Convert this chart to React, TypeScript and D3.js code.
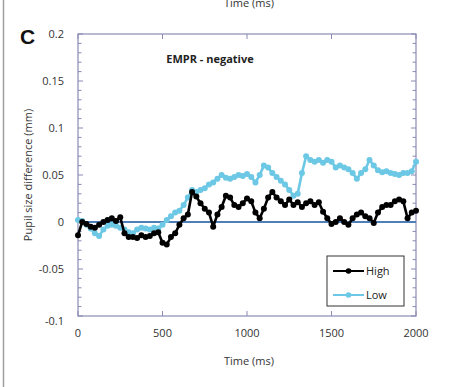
import React, { useEffect, useRef } from 'react';
import * as d3 from 'd3';

const times = d3.range(0, 2001, 25);

const highValues = [
  -0.014, 0.0, -0.002, -0.005, -0.006, -0.003, 0.0, 0.002, 0.004, 0.001,
  0.005, -0.012, -0.016, -0.016, -0.017, -0.014, -0.016, -0.015, -0.012, -0.011,
  -0.022, -0.024, -0.016, -0.012, -0.003, 0.004, 0.008, 0.032, 0.027, 0.02,
  0.014, 0.01, -0.005, 0.008, 0.016, 0.028, 0.026, 0.018, 0.016, 0.02,
  0.025, 0.022, 0.01, 0.004, 0.014, 0.026, 0.032, 0.026, 0.022, 0.018,
  0.024, 0.018, 0.021, 0.016, 0.02, 0.022, 0.018, 0.021, 0.011, 0.004,
  -0.002, 0.0, 0.004, 0.0, -0.003, 0.004, 0.008, 0.01, 0.006, 0.004,
  -0.001, 0.01, 0.016, 0.018, 0.018, 0.022, 0.024, 0.022, 0.004, 0.01,
  0.012,
];

const lowValues = [
  0.002, 0.001, -0.003, -0.007, -0.012, -0.015, -0.008, -0.004, -0.003, -0.004,
  -0.006, -0.008, -0.011, -0.012, -0.008, -0.006, -0.007, -0.008, -0.006, -0.007,
  -0.003, 0.002, 0.006, 0.01, 0.012, 0.018, 0.026, 0.034, 0.032, 0.034,
  0.036, 0.04, 0.042, 0.046, 0.05, 0.047, 0.046, 0.048, 0.05, 0.049,
  0.051, 0.048, 0.042, 0.05, 0.06, 0.058, 0.052, 0.048, 0.044, 0.04,
  0.034, 0.028, 0.03, 0.052, 0.07, 0.066, 0.064, 0.066, 0.063, 0.066,
  0.064, 0.058, 0.06, 0.058, 0.056, 0.052, 0.046, 0.052, 0.056, 0.066,
  0.06, 0.055, 0.053, 0.054, 0.052, 0.051, 0.05, 0.052, 0.052, 0.054,
  0.064,
];

const xTicks = [0, 500, 1000, 1500, 2000];
const yTicks = ['-0.1', '-0.05', '0', '0.05', '0.1', '0.15', '0.2'];
const yMinorTicks = d3.range(-10, 21).map((d) => d / 100);

const series = [
  { name: 'High', values: highValues, color: '#000000' },
  { name: 'Low', values: lowValues, color: '#6cc8e4' },
];

const W = 454;
const H = 387;

export default function App() {
  const svgRef = useRef<SVGSVGElement>(null);

  useEffect(() => {
    if (!svgRef.current) return;
    const svg = d3.select(svgRef.current);
    svg.selectAll('*').remove();

    const left = 78, right = 416, top = 34, bottom = 316;
    const x = d3.scaleLinear().domain([0, 2000]).range([left, right]);
    const y = d3.scaleLinear().domain([-0.1, 0.2]).range([bottom, top]);
    const font = "'Open Sans', 'Liberation Sans', sans-serif";
    const frame = '#8a8ab4';

    svg.append('rect').attr('width', W).attr('height', H).attr('fill', '#ffffff');

    // page edge line on the left
    svg.append('line')
      .attr('x1', 3.5).attr('x2', 3.5).attr('y1', 0).attr('y2', H)
      .attr('stroke', '#a0a0a0').attr('stroke-width', 1.5);

    // panel letter
    svg.append('text')
      .attr('x', 20).attr('y', 44)
      .attr('font-family', "'Liberation Sans', Arial, sans-serif")
      .attr('font-weight', 'bold').attr('font-size', 21)
      .attr('fill', '#111')
      .text('C');

    // axis title of the panel above, cut by the top edge as in the scan
    svg.append('text')
      .attr('x', 249).attr('y', 7)
      .attr('text-anchor', 'middle')
      .attr('font-family', font).attr('font-size', 11)
      .attr('fill', '#333')
      .text('Time (ms)');

    // frame
    svg.append('rect')
      .attr('x', left).attr('y', top)
      .attr('width', right - left).attr('height', bottom - top)
      .attr('fill', 'none').attr('stroke', frame).attr('stroke-width', 1.2);

    // minor y ticks, inward on both sides
    const tk = svg.append('g').attr('stroke', frame).attr('stroke-width', 1);
    yMinorTicks.forEach((v) => {
      const len = Math.abs(Math.round(v * 100)) % 5 === 0 ? 5 : 3.5;
      tk.append('line').attr('x1', left).attr('x2', left + len).attr('y1', y(v)).attr('y2', y(v));
      tk.append('line').attr('x1', right - len).attr('x2', right).attr('y1', y(v)).attr('y2', y(v));
    });

    // x ticks, inward top and bottom
    xTicks.forEach((t) => {
      tk.append('line').attr('x1', x(t)).attr('x2', x(t)).attr('y1', bottom).attr('y2', bottom - 5);
      tk.append('line').attr('x1', x(t)).attr('x2', x(t)).attr('y1', top).attr('y2', top + 5);
    });

    // tick labels
    const labels = svg.append('g')
      .attr('font-family', font).attr('font-size', 11).attr('fill', '#333');
    yTicks.forEach((s) => {
      const v = +s;
      labels.append('text')
        .attr('x', 64).attr('y', y(v) + 4 + (v === -0.1 ? 5 : 0))
        .attr('text-anchor', 'end')
        .text(s);
    });
    xTicks.forEach((t) => {
      labels.append('text')
        .attr('x', x(t)).attr('y', 337)
        .attr('text-anchor', 'middle')
        .text(t);
    });

    // axis titles
    svg.append('text')
      .attr('x', 249).attr('y', 365)
      .attr('text-anchor', 'middle')
      .attr('font-family', font).attr('font-size', 11).attr('fill', '#333')
      .text('Time (ms)');
    svg.append('text')
      .attr('transform', `translate(32,${(top + bottom) / 2}) rotate(-90)`)
      .attr('text-anchor', 'middle')
      .attr('font-family', font).attr('font-size', 11).attr('fill', '#333')
      .text('Pupil size difference (mm)');

    // chart title
    svg.append('text')
      .attr('x', 210).attr('y', 63)
      .attr('text-anchor', 'middle')
      .attr('font-family', font).attr('font-size', 11).attr('font-weight', 'bold')
      .attr('fill', '#222')
      .text('EMPR - negative');

    // zero line
    svg.append('line')
      .attr('x1', left).attr('x2', right).attr('y1', y(0)).attr('y2', y(0))
      .attr('stroke', '#4f7fb8').attr('stroke-width', 2);

    const line = d3.line<number>()
      .x((_, i) => x(times[i]))
      .y((d) => y(d));

    // Low first, High on top
    [series[1], series[0]].forEach((s) => {
      const g = svg.append('g');
      g.append('path')
        .datum(s.values)
        .attr('fill', 'none')
        .attr('stroke', s.color)
        .attr('stroke-width', 2.6)
        .attr('stroke-linejoin', 'round')
        .attr('d', line);
      g.selectAll('circle')
        .data(s.values)
        .join('circle')
        .attr('cx', (_, i) => x(times[i]))
        .attr('cy', (d) => y(d))
        .attr('r', 3)
        .attr('fill', s.color);
    });

    // legend
    const lg = svg.append('g');
    lg.append('rect')
      .attr('x', 327).attr('y', 256).attr('width', 77).attr('height', 50)
      .attr('fill', '#fff').attr('stroke', '#333').attr('stroke-width', 1);
    series.forEach((s, i) => {
      const ly = 271 + i * 24;
      lg.append('line')
        .attr('x1', 333).attr('x2', 364).attr('y1', ly).attr('y2', ly)
        .attr('stroke', s.color).attr('stroke-width', 2);
      lg.append('circle').attr('cx', 348.5).attr('cy', ly).attr('r', 2.8).attr('fill', s.color);
      lg.append('text')
        .attr('x', 366).attr('y', ly + 4)
        .attr('font-family', font).attr('font-size', 11).attr('fill', '#222')
        .text(s.name);
    });
  }, []);

  return (
    <svg
      ref={svgRef}
      width={W}
      height={H}
      style={{ position: 'absolute', left: 0, top: 0, display: 'block' }}
    />
  );
}
